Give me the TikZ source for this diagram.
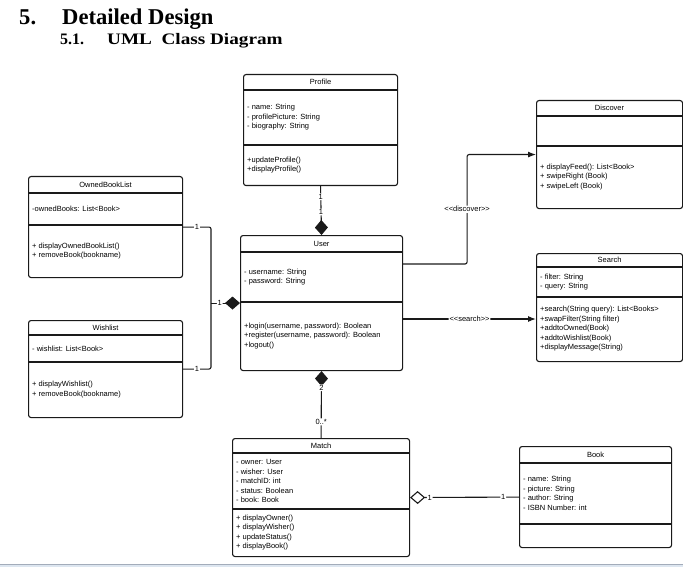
\documentclass[tikz,border=0pt]{standalone}
\usepackage{fontspec}
\usepackage{graphicx}
\usepackage{tikz}
\usetikzlibrary{arrows.meta, calc, positioning}
\newfontfamily\umlfont{Liberation Sans}
\newfontfamily\headfont{Liberation Serif}
\definecolor{umlline}{HTML}{1A1A1A}
\definecolor{stripblue}{HTML}{DDE6F0}
\definecolor{stripgray}{HTML}{A3ACBA}
\newcommand{\stereo}[1]{<\kern0pt<#1>\kern0pt>}

% class box: name, position, width, height, header, divider, title, attributes, methods
\newcommand{\umlclass}[9]{%
  \node[classbox, minimum width=#3pt, minimum height=#4pt, anchor=north west] (#1) at #2 {};
  \draw[classline] ([yshift=-#5pt]#1.north west) -- ([yshift=-#5pt]#1.north east);
  \draw[classline] ([yshift=-#6pt]#1.north west) -- ([yshift=-#6pt]#1.north east);
  \node[classtext] (#1-title) at ([yshift={-#5pt/2}]#1.north) {#7};
  \node[classtext, anchor=west] (#1-attr) at ([xshift=4pt, yshift={-(#5+#6)*0.5pt}]#1.north west) {#8};
  \node[classtext, anchor=west] (#1-ops) at ([xshift=4pt, yshift={-(#6+#4)*0.5pt}]#1.north west) {#9};
}

\begin{document}
\begin{tikzpicture}[
    x=1pt, y=-1pt,
    classbox/.style={draw=umlline, line width=1.1pt, rounded corners=2.5pt, inner sep=0pt, fill=white},
    classline/.style={draw=umlline, line width=1.1pt},
    classtext/.style={font=\umlfont\fontsize{7.5}{9.5}\selectfont, inner sep=0pt, align=left, text=black},
    heading/.style={inner sep=0pt, anchor=base west, text=black},
    lab/.style={fill=white, inner sep=0.8pt, font=\umlfont\fontsize{7.5}{8}\selectfont, text=black},
    line/.style={draw=umlline, line width=1.1pt, rounded corners=2pt},
    arrow/.style={line, -{Latex[length=8pt, width=6pt]}},
    composition/.style={line, -{Diamond[length=15pt, width=13pt]}},
    aggregation/.style={line, {Diamond[open, length=15pt, width=13pt]}-},
]
    \useasboundingbox (0,0) rectangle (683,567);

    % Heading
    \node[heading, font=\headfont\bfseries\fontsize{22.6}{26}\selectfont] (chapnum) at (19,25) {5.};
    \node[heading, font=\headfont\bfseries\fontsize{22.6}{26}\selectfont] (chaptitle) at (62,25) {Detailed Design};
    \node[heading, font=\headfont\bfseries\fontsize{16}{18}\selectfont] (secnum) at (60,45) {5.1.};
    \node[heading, font=\headfont\bfseries\fontsize{16}{18}\selectfont] (sectitle) at (107,45) {\scalebox{1.2}[1]{UML\ \ Class Diagram}};

    % Classes
    \umlclass{profile}{(243,74)}{154}{111}{16}{71}{Profile}
      {- name: String\\- profilePicture: String\\- biography: String}
      {+updateProfile()\\+displayProfile()}
    \umlclass{user}{(240,235)}{162}{135}{17}{67}{User}
      {- username: String\\- password: String}
      {+login(username, password): Boolean\\+register(username, password): Boolean\\+logout()}
    \umlclass{owned}{(28,176)}{154}{101}{17}{49}{OwnedBookList}
      {-ownedBooks: List<Book>}
      {+ displayOwnedBookList()\\+ removeBook(bookname)}
    \umlclass{wishlist}{(28,320)}{154}{97}{15}{42}{Wishlist}
      {- wishlist: List<Book>}
      {+ displayWishlist()\\+ removeBook(bookname)}
    \umlclass{discover}{(536,100)}{146}{108}{16}{46}{Discover}
      {}
      {+ displayFeed(): List<Book>\\+ swipeRight (Book)\\+ swipeLeft (Book)}
    \umlclass{search}{(536,253)}{146}{108}{14}{44}{Search}
      {- filter: String\\- query: String}
      {+search(String query): List<Books>\\+swapFilter(String filter)\\+addtoOwned(Book)\\+addtoWishlist(Book)\\+displayMessage(String)}
    \umlclass{match}{(232,438)}{177}{118}{15}{71}{Match}
      {- owner: User\\- wisher: User\\- matchID: int\\- status: Boolean\\- book: Book}
      {+ displayOwner()\\+ displayWisher()\\+ updateStatus()\\+ displayBook()}
    \umlclass{book}{(519,446)}{152}{101}{17}{78}{Book}
      {- name: String\\- picture: String\\- author: String\\- ISBN Number: int}
      {}

    % Connectors
    \coordinate (join) at ([xshift=-29pt]user.west);
    \coordinate (userD) at ([yshift=-29pt]user.north east);
    \coordinate (userS) at ([yshift=-84pt]user.north east);

    \draw[composition] (profile.south) -- node[lab, pos=0.22]{1} node[lab, pos=0.53]{1} (user.north);
    \draw[line] (owned.east) -| node[lab, pos=0.25]{1} (join);
    \draw[line] (wishlist.east) -| node[lab, pos=0.25]{1} (join);
    \draw[composition] (join) -- node[lab, pos=0.3]{1} (user.west);
    \draw[arrow] (userD) -- ++(64,0) |- node[lab, pos=0.25]{\stereo{discover}} (discover.west);
    \draw[arrow] (userS) -- node[lab]{\stereo{search}} (userS -| search.west);
    \draw[line, {Diamond[length=15pt, width=13pt]}-] (user.south) -- node[lab, pos=0.25]{2} node[lab, pos=0.76]{0..*} (match.north);
    \draw[aggregation] (match.east) -- node[lab, pos=0.18]{1} node[lab, pos=0.855]{1} (book.west);

    % Page edge
    \fill[stripblue] (0,564) rectangle (683,567);
    \draw[stripgray, line width=0.8pt] (0,564) -- (683,564);
\end{tikzpicture}
\end{document}
